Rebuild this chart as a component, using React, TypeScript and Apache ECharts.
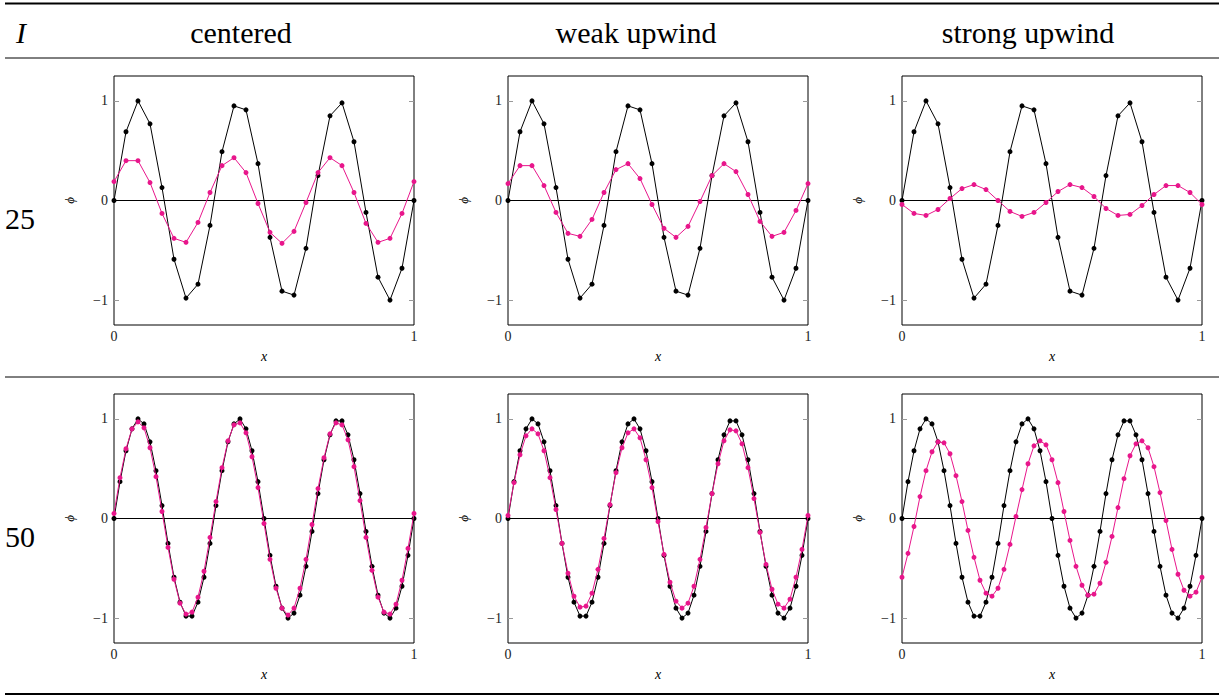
import React, { useEffect, useRef } from "react";
import * as echarts from "echarts";

// Mesh sizes for the two refinement levels
const meshSizes = [25, 50];
const schemeNames = ["centered", "weak upwind", "strong upwind"];
const yTicks = [-1, 0, 1];

// Exact solution at the mesh nodes
const exact25 = [0, 0.69, 1.0, 0.77, 0.13, -0.59, -0.98, -0.84, -0.25, 0.49, 0.95, 0.91, 0.37, -0.37, -0.91, -0.95, -0.48, 0.25, 0.85, 0.98, 0.59, -0.12, -0.77, -1.0, -0.68, 0];
const exact50 = [0, 0.37, 0.68, 0.9, 1.0, 0.95, 0.77, 0.48, 0.13, -0.25, -0.59, -0.84, -0.98, -0.98, -0.84, -0.59, -0.25, 0.13, 0.48, 0.77, 0.95, 1.0, 0.9, 0.68, 0.37, 0, -0.37, -0.68, -0.9, -1.0, -0.95, -0.77, -0.48, -0.13, 0.25, 0.59, 0.84, 0.98, 0.98, 0.84, 0.59, 0.25, -0.13, -0.48, -0.77, -0.95, -1.0, -0.9, -0.68, -0.37, 0];

// Numerical solutions, I = 25
const centered25 = [0.19, 0.4, 0.4, 0.18, -0.13, -0.38, -0.42, -0.22, 0.08, 0.35, 0.43, 0.28, -0.03, -0.32, -0.43, -0.31, -0.02, 0.28, 0.43, 0.35, 0.08, -0.23, -0.42, -0.38, -0.13, 0.19];
const weak25 = [0.17, 0.35, 0.35, 0.15, -0.12, -0.33, -0.36, -0.19, 0.08, 0.31, 0.37, 0.22, -0.04, -0.28, -0.37, -0.26, -0.01, 0.25, 0.37, 0.29, 0.06, -0.21, -0.36, -0.32, -0.1, 0.17];
const strong25 = [-0.04, -0.13, -0.15, -0.09, 0.02, 0.12, 0.16, 0.11, 0.0, -0.11, -0.16, -0.12, -0.02, 0.09, 0.16, 0.13, 0.04, -0.08, -0.15, -0.14, -0.05, 0.06, 0.15, 0.15, 0.08, -0.04];

// Numerical solutions, I = 50
const centered50 = [0.05, 0.41, 0.7, 0.9, 0.97, 0.91, 0.71, 0.42, 0.07, -0.29, -0.61, -0.85, -0.96, -0.94, -0.79, -0.53, -0.19, 0.17, 0.51, 0.78, 0.94, 0.96, 0.86, 0.62, 0.31, -0.05, -0.41, -0.7, -0.9, -0.97, -0.9, -0.7, -0.41, -0.06, 0.3, 0.61, 0.85, 0.96, 0.94, 0.79, 0.52, 0.18, -0.19, -0.52, -0.79, -0.94, -0.96, -0.86, -0.62, -0.3, 0.05];
const weak50 = [0.03, 0.36, 0.64, 0.83, 0.9, 0.85, 0.68, 0.41, 0.09, -0.25, -0.55, -0.78, -0.89, -0.88, -0.75, -0.51, -0.2, 0.14, 0.46, 0.71, 0.86, 0.9, 0.81, 0.59, 0.31, -0.03, -0.36, -0.64, -0.83, -0.9, -0.85, -0.68, -0.41, -0.09, 0.25, 0.55, 0.78, 0.89, 0.88, 0.75, 0.51, 0.2, -0.14, -0.46, -0.71, -0.86, -0.9, -0.81, -0.59, -0.31, 0.03];
const strong50 = [-0.59, -0.35, -0.08, 0.22, 0.48, 0.67, 0.77, 0.76, 0.65, 0.43, 0.17, -0.12, -0.39, -0.62, -0.75, -0.78, -0.7, -0.51, -0.26, 0.02, 0.29, 0.55, 0.73, 0.78, 0.74, 0.59, 0.36, 0.07, -0.22, -0.48, -0.67, -0.77, -0.76, -0.65, -0.44, -0.18, 0.11, 0.4, 0.63, 0.75, 0.78, 0.71, 0.52, 0.26, -0.02, -0.31, -0.56, -0.72, -0.78, -0.74, -0.59];

const exactByRow = [exact25, exact50];
const numericByRow = [
  [centered25, weak25, strong25],
  [centered50, weak50, strong50],
];

const SERIF = "Liberation Serif";
const PINK = "#e8168b";

// Node coordinates of a uniform mesh on [0, 1]
const withNodes = (values: number[]) => {
  const n = values.length - 1;
  return values.map((v, i) => [i / n, v]);
};

const fmtTick = (v: number) => (v < 0 ? "\u2212" + Math.abs(v) : String(v));

export default function App() {
  const ref = useRef<HTMLDivElement>(null);

  useEffect(() => {
    if (!ref.current) return;
    const chart = echarts.init(ref.current, undefined, { renderer: "svg" });

    const lefts = [114, 508, 902];
    const tops = [76, 394];
    const plotW = 300;
    const plotH = 249;

    const grids: any[] = [];
    const xAxes: any[] = [];
    const yAxes: any[] = [];
    const series: any[] = [];

    meshSizes.forEach((_, r) => {
      schemeNames.forEach((__, c) => {
        const p = r * 3 + c;
        grids.push({
          left: lefts[c],
          top: tops[r],
          width: plotW,
          height: plotH,
          show: true,
          borderColor: "#000",
          borderWidth: 1,
          backgroundColor: "transparent",
        });
        xAxes.push({
          gridIndex: p,
          type: "value",
          min: 0,
          max: 1,
          interval: 1,
          name: "x",
          nameLocation: "middle",
          nameGap: 24,
          nameTextStyle: { fontFamily: SERIF, fontStyle: "italic", fontSize: 14, color: "#000" },
          axisLine: { show: false },
          axisTick: { show: false },
          splitLine: { show: false },
          axisLabel: { fontFamily: SERIF, fontSize: 14, color: "#222", margin: 4 },
        });
        const yBase = {
          gridIndex: p,
          type: "value",
          min: -1.25,
          max: 1.25,
          splitLine: { show: false },
          axisLine: { show: false },
          axisTick: {
            show: true,
            inside: true,
            length: 5,
            customValues: yTicks,
            lineStyle: { color: "#999", width: 1 },
          },
        };
        yAxes.push({
          ...yBase,
          position: "left",
          name: "\u03d5",
          nameLocation: "middle",
          nameGap: 38,
          nameRotate: 90,
          nameTextStyle: { fontFamily: SERIF, fontStyle: "italic", fontSize: 13, color: "#000" },
          axisLabel: {
            customValues: yTicks,
            formatter: fmtTick,
            fontFamily: SERIF,
            fontSize: 14,
            color: "#222",
            margin: 6,
          },
        });
        yAxes.push({
          ...yBase,
          position: "right",
          axisLabel: { show: false },
        });

        series.push({
          type: "line",
          xAxisIndex: p,
          yAxisIndex: 2 * p,
          data: withNodes(exactByRow[r]),
          symbol: "circle",
          symbolSize: 5,
          itemStyle: { color: "#000" },
          lineStyle: { color: "#000", width: 1 },
          z: 2,
          markLine: {
            silent: true,
            symbol: "none",
            label: { show: false },
            lineStyle: { color: "#000", width: 1, type: "solid" },
            data: [{ yAxis: 0 }],
            z: 1,
          },
        });
        series.push({
          type: "line",
          xAxisIndex: p,
          yAxisIndex: 2 * p,
          data: withNodes(numericByRow[r][c]),
          symbol: "circle",
          symbolSize: 5,
          itemStyle: { color: PINK },
          lineStyle: { color: PINK, width: 1 },
          z: 3,
        });
      });
    });

    const ruleX1 = 5;
    const ruleX2 = 1219;
    const rule = (y: number, w: number) => ({
      type: "line",
      shape: { x1: ruleX1, y1: y, x2: ruleX2, y2: y },
      style: { stroke: "#000", lineWidth: w },
      silent: true,
    });
    const headerCenters = [241, 636, 1028];
    const rowLabelY = [218, 536];

    const textStyle = (extra: any) => ({
      fontFamily: SERIF,
      fontSize: 30,
      fill: "#000",
      textVerticalAlign: "middle",
      ...extra,
    });

    const graphic: any[] = [
      rule(3.5, 2),
      rule(58, 1),
      rule(377, 1),
      rule(694, 2),
      {
        type: "text",
        style: textStyle({ text: "I", x: 21, y: 32, textAlign: "center", fontStyle: "italic" }),
      },
      ...schemeNames.map((name, c) => ({
        type: "text",
        style: textStyle({ text: name, x: headerCenters[c], y: 32, textAlign: "center" }),
      })),
      ...meshSizes.map((m, r) => ({
        type: "text",
        style: textStyle({ text: String(m), x: 5, y: rowLabelY[r], textAlign: "left" }),
      })),
    ];

    chart.setOption({
      animation: false,
      backgroundColor: "#fff",
      grid: grids,
      xAxis: xAxes,
      yAxis: yAxes,
      series,
      graphic,
    });

    return () => chart.dispose();
  }, []);

  return (
    <div
      ref={ref}
      style={{ position: "fixed", left: 0, top: 0, width: 1225, height: 696 }}
    />
  );
}
